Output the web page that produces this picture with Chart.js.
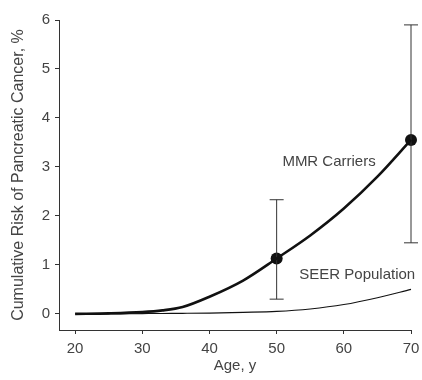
<!DOCTYPE html>
<html>
<head>
<meta charset="utf-8">
<script src="https://cdn.jsdelivr.net/npm/chart.js@4"></script>
<style>
html,body{margin:0;padding:0;background:#fff;}
#wrap{width:422px;height:380px;position:relative;}
</style>
</head>
<body>
<div id="wrap"><canvas id="c"></canvas></div>
<script>
const ages = [20, 25, 30, 33, 36, 40, 45, 50, 55, 60, 65, 70];
const mmrRisk = [0, 0.01, 0.035, 0.07, 0.14, 0.35, 0.68, 1.13, 1.6, 2.15, 2.8, 3.55];
const seerRisk = [0, 0, 0.005, 0.008, 0.01, 0.015, 0.03, 0.05, 0.1, 0.19, 0.33, 0.5];
const estAges = [50, 70];
const estRisk = [1.13, 3.55];
const ciLow = [0.3, 1.45];
const ciHigh = [2.33, 5.9];
const xTicks = [20, 30, 40, 50, 60, 70];
const yTicks = [0, 1, 2, 3, 4, 5, 6];
const seriesNames = ['MMR Carriers', 'SEER Population'];

const FONT = '"Liberation Sans", Arial, sans-serif';
const INK = '#444';
const AX = '#333';

const toPts = (xs, ys) => xs.map((x, i) => ({x: x, y: ys[i]}));

const datasets = [
  {label: seriesNames[1], data: toPts(ages, seerRisk), borderColor: '#111', borderWidth: 1.1,
   pointRadius: 0, showLine: true, cubicInterpolationMode: 'monotone', fill: false, clip: false},
  {label: seriesNames[0], data: toPts(ages, mmrRisk), borderColor: '#111', borderWidth: 2.6,
   pointRadius: 0, showLine: true, cubicInterpolationMode: 'monotone', fill: false, clip: false}
];
estAges.forEach((a, i) => {
  datasets.push({label: 'ci' + i, data: [{x: a, y: ciLow[i]}, {x: a, y: ciHigh[i]}],
    showLine: true, borderColor: AX, borderWidth: 1, pointStyle: 'line', pointRadius: 7,
    pointBorderColor: AX, pointBorderWidth: 1, pointBackgroundColor: AX, clip: false});
});
datasets.push({label: 'est', data: toPts(estAges, estRisk), showLine: false, clip: false,
  pointRadius: 6, pointBackgroundColor: '#111', pointBorderColor: '#111', pointBorderWidth: 0});

const labelPlugin = {
  id: 'seriesLabels',
  afterDatasetsDraw(chart, args, opts) {
    const ctx = chart.ctx, xs = chart.scales.x, ys = chart.scales.y;
    ctx.save();
    ctx.font = '15px ' + FONT;
    ctx.fillStyle = INK;
    ctx.textAlign = 'center';
    ctx.textBaseline = 'middle';
    opts.items.forEach(it => {
      ctx.fillText(it.text, xs.getPixelForValue(it.x), ys.getPixelForValue(it.y));
    });
    ctx.restore();
  }
};

new Chart(document.getElementById('c'), {
  type: 'scatter',
  data: {datasets: datasets},
  plugins: [labelPlugin],
  options: {
    responsive: true,
    maintainAspectRatio: false,
    animation: false,
    layout: {padding: {top: 20, right: 11, left: 0, bottom: 0}},
    plugins: {
      legend: {display: false},
      tooltip: {enabled: false},
      seriesLabels: {items: [
        {text: seriesNames[0], x: 57.8, y: 3.1},
        {text: seriesNames[1], x: 62.0, y: 0.8}
      ]}
    },
    scales: {
      x: {
        type: 'linear', min: 17.6, max: 70,
        afterBuildTicks: s => { s.ticks = xTicks.map(v => ({value: v})); },
        afterFit: s => { s.height = 50; s.paddingLeft = 0; s.paddingRight = 0; },
        border: {display: true, color: AX, width: 1},
        grid: {display: true, drawOnChartArea: false, drawTicks: true, tickLength: 4, color: AX},
        ticks: {color: INK, font: {family: FONT, size: 15}, padding: 6, maxRotation: 0},
        title: {display: true, text: 'Age, y', color: INK, font: {family: FONT, size: 15}, padding: {top: 0, bottom: 5}}
      },
      y: {
        type: 'linear', min: -0.33, max: 6,
        afterBuildTicks: s => { s.ticks = yTicks.map(v => ({value: v})); },
        afterFit: s => { s.width = 59; s.paddingTop = 0; s.paddingBottom = 0; },
        border: {display: true, color: AX, width: 1},
        grid: {display: true, drawOnChartArea: false, drawTicks: true, tickLength: 4, color: AX},
        ticks: {color: INK, font: {family: FONT, size: 15}, padding: 5},
        title: {display: true, text: 'Cumulative Risk of Pancreatic Cancer, %', color: INK, font: {family: FONT, size: 16}, padding: {top: 9, bottom: 0}}
      }
    }
  }
});
</script>
</body>
</html>
